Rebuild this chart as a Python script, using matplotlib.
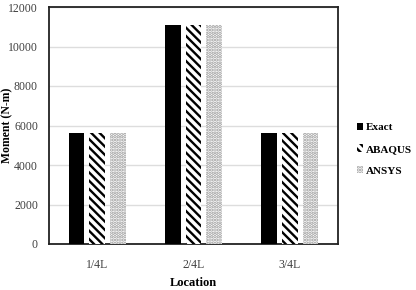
import numpy as np
import matplotlib
matplotlib.use("Agg")
import matplotlib.pyplot as plt

plt.rcParams['font.family'] = ['Liberation Serif', 'DejaVu Serif']
plt.rcParams['hatch.linewidth'] = 1.7

# data
locations = ['1/4L', '2/4L', '3/4L']
exact = [5630, 11100, 5630]
abaqus = [5630, 11100, 5630]
ansys = [5630, 11100, 5630]
yticks = [0, 2000, 4000, 6000, 8000, 10000, 12000]

fig = plt.figure(figsize=(4.16, 2.90), dpi=100)
ax = fig.add_axes([49/416, 1 - 244/290, 289/416, 237/290])

x = np.arange(len(locations))
w = 0.165
step = 0.215

ax.bar(x - step, exact, w, color='black', edgecolor='black', linewidth=0, label='Exact', zorder=3)
ax.bar(x, abaqus, w, color='white', edgecolor='black', hatch='\\\\\\\\', linewidth=0, label='ABAQUS', zorder=3)
ax.bar(x + step, ansys, w, color='white', edgecolor='#999999', hatch='.....', linewidth=0, label='ANSYS', zorder=3)

ax.set_xlim(-0.5, 2.5)
ax.set_ylim(0, 12000)
ax.set_yticks(yticks)
ax.set_xticks(x)
ax.set_xticklabels(locations)
ax.tick_params(axis='both', length=0, labelsize=8.5, colors='#404040')
ax.tick_params(axis='x', pad=11)
ax.tick_params(axis='y', pad=8)
ax.grid(axis='y', color='#dddddd', linewidth=1, zorder=0)

for s in ax.spines.values():
    s.set_color('#222222')
    s.set_linewidth(1.3)

ax.set_xlabel('Location', fontsize=9, fontweight='bold', labelpad=4)
ax.set_ylabel('Moment (N-m)', fontsize=8.5, fontweight='bold')
ax.yaxis.set_label_coords(-36/289, 0.5)

leg = ax.legend(loc='center left', bbox_to_anchor=(1.03, 0.40), frameon=False,
                handlelength=0.6, handleheight=0.6, handletextpad=0.2,
                labelspacing=1.1, prop={'weight': 'bold', 'size': 8})

fig.savefig('out.png', dpi=100)
